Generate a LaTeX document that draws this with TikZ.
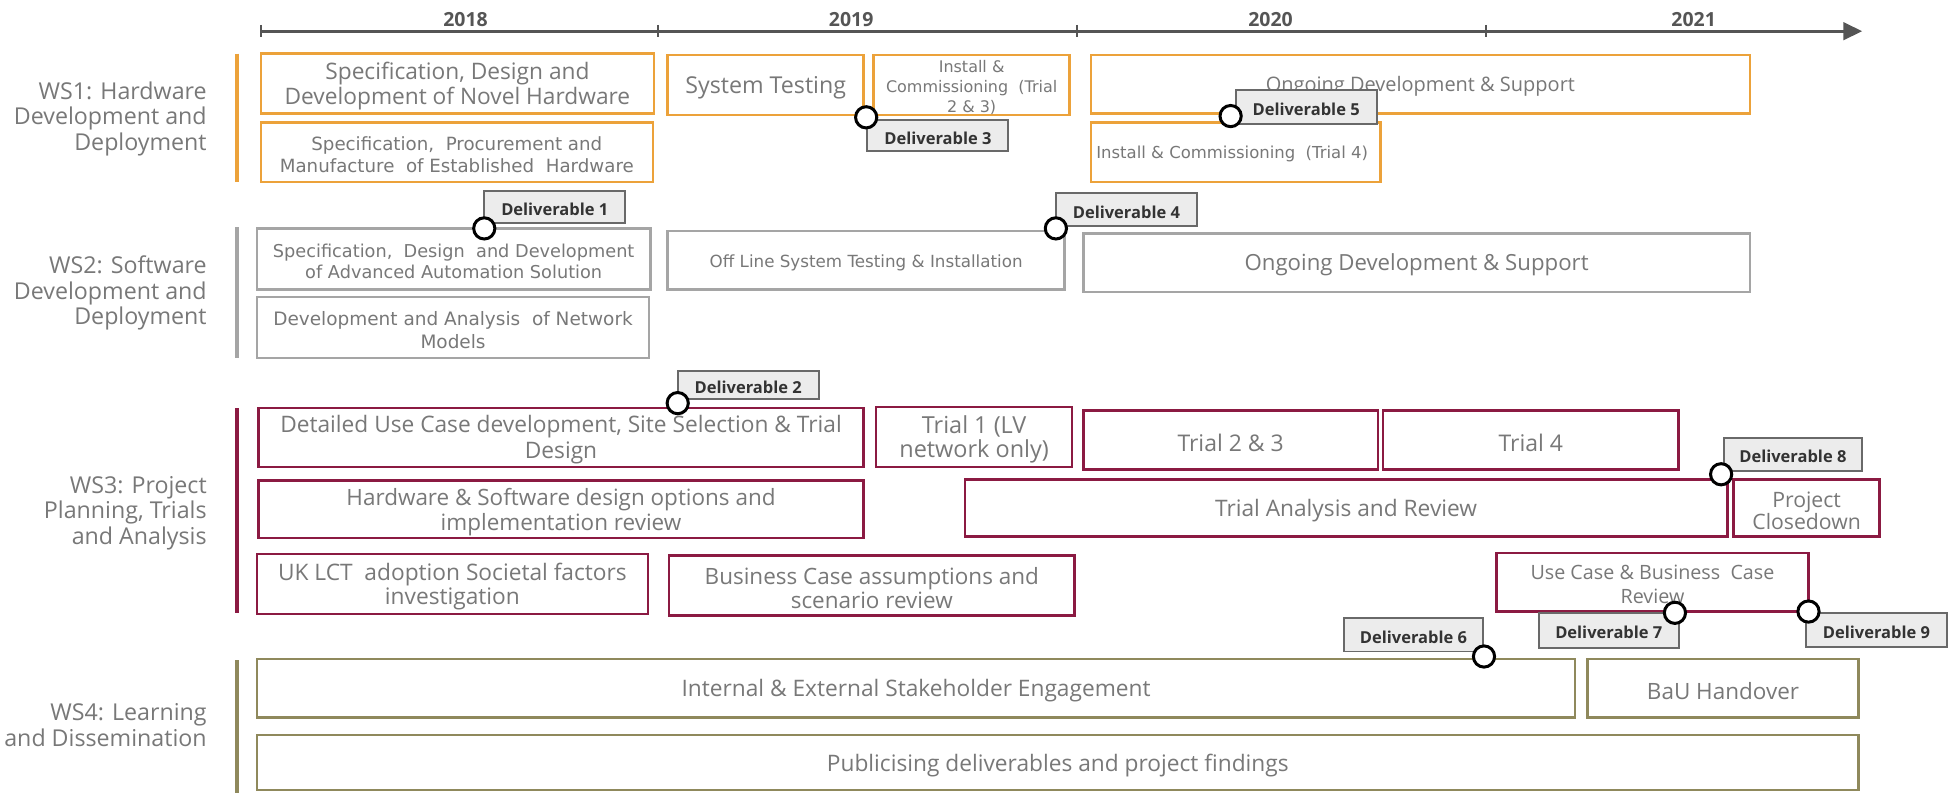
\documentclass[tikz,border=0pt]{standalone}
\usepackage{fontspec}
\setmainfont{Open Sans}
\newfontfamily\verd{DejaVu Sans}
\usetikzlibrary{arrows.meta}

\definecolor{wsorange}{RGB}{236,162,58}
\definecolor{wsgrey}{RGB}{165,165,165}
\definecolor{wscrimson}{RGB}{139,26,66}
\definecolor{wsolive}{RGB}{143,137,92}
\definecolor{txtgrey}{RGB}{120,120,120}
\definecolor{axisgrey}{RGB}{85,85,85}
\definecolor{dlvfill}{RGB}{236,236,236}
\definecolor{dlvdraw}{RGB}{105,105,105}

\newcommand\fsz[2]{\fontsize{#1}{#2}\selectfont}
% task box given by its two corners (in picture units); its text sits slightly low
\newcommand\task[7]{%
  \pgfmathsetmacro\tw{(#5-#3)*0.5}%
  \pgfmathsetmacro\th{(#6-#4)*0.5}%
  \node[#2, minimum width=\tw pt, minimum height=\th pt] (#1) at ({(#3+#5)/2},{(#4+#6)/2}) {};%
  \node[#2, draw=none, fill=none, minimum width=0pt, minimum height=0pt] (#1-t) at ([yshift=-1pt]#1.center) {#7};%
}

\tikzset{
  taskbox/.style={draw, line width=1pt, fill=white, inner sep=0pt, align=center, text=txtgrey},
  obox/.style={taskbox, draw=wsorange},
  gbox/.style={taskbox, draw=wsgrey},
  cbox/.style={taskbox, draw=wscrimson},
  vbox/.style={taskbox, draw=wsolive},
  dlv/.style={draw=dlvdraw, fill=dlvfill, line width=0.8pt, inner sep=0pt,
    font=\bfseries\fsz{6.6}{8}, text=black!80},
  mile/.style={circle, draw=black, line width=1.2pt, fill=white, minimum size=8.5pt, inner sep=0pt},
  wslabel/.style={anchor=east, align=right, text=txtgrey, font=\fsz{9.3}{10.2}, inner sep=0pt},
  year/.style={anchor=base, font=\bfseries\fsz{7.8}{9}, text=axisgrey, inner sep=0pt},
  wsbar/.style={line width=1.6pt},
  axisline/.style={line width=1.1pt, draw=axisgrey, -{Triangle[length=7.5pt,width=7pt]}},
  tick/.style={line width=0.8pt, draw=axisgrey}
}

\begin{document}
\begin{tikzpicture}[x=0.5pt, y=-0.5pt]
\path[fill=white, use as bounding box] (0,0) rectangle (1568,635);

% time axis
\coordinate (t0) at (209,25);
\coordinate (t1) at (527,25);
\coordinate (t2) at (863,25);
\coordinate (t3) at (1191,25);
\coordinate (tend) at (1492,25);
\draw[axisline] (t0) -- (tend);
\foreach \p in {t0,t1,t2,t3} \draw[tick] ([yshift=2.5pt]\p) -- ([yshift=-2.5pt]\p);
\node[year] (y18) at (373,21) {2018};
\node[year] (y19) at (682,21) {2019};
\node[year] (y20) at (1018,21) {2020};
\node[year] (y21) at (1357,21) {2021};

% workstream labels and bars
\node[wslabel] (ws1) at (166,95) {WS1: Hardware\\Development and\\Deployment};
\node[wslabel] (ws2) at (166,235) {WS2: Software\\Development and\\Deployment};
\node[wslabel] (ws3) at (166,411) {WS3: Project\\Planning, Trials\\and Analysis};
\node[wslabel] (ws4) at (166,581) {WS4: Learning\\and Dissemination};
\draw[wsbar, wsorange] (189.5,43) -- (189.5,146);
\draw[wsbar, wsgrey] (189.5,182) -- (189.5,287);
\draw[wsbar, wscrimson] (189.5,327) -- (189.5,491);
\draw[wsbar, wsolive] (189.5,529) -- (189.5,635);

% WS1
\task{hw1}{obox, font=\fsz{9.1}{10}}{209}{43}{524}{91}{Specification, Design and\\Development of Novel Hardware}
\task{hw2}{obox, font=\verd\fsz{7.3}{9}}{209}{98}{523}{146}{Specification,\ \ Procurement and\\Manufacture\ \ of Established\ \ Hardware}
\task{hw3}{obox, font=\fsz{9.3}{10}}{535}{44}{692}{92}{System Testing}
\task{hw4}{obox, font=\verd\fsz{6.4}{8}}{700}{44}{857}{92}{Install \&\\Commissioning\ \ (Trial\\2 \& 3)}
\task{hw5}{obox, font=\fsz{8}{10}}{874}{44}{1402}{91}{Ongoing Development \& Support}
\task{hw6}{obox}{874}{98}{1106}{146}{}
\node[anchor=west, inner sep=0pt, text=txtgrey, font=\verd\fsz{6.6}{8}] (hw6x) at ([xshift=2.5pt, yshift=-0.5pt]hw6.west) {Install \& Commissioning\ \ (Trial 4)};

% WS2
\task{sw1}{gbox, font=\verd\fsz{7.1}{8.7}}{206}{183}{521}{232}{Specification,\ \ Design\ \ and Development\\of Advanced Automation Solution}
\task{sw2}{gbox, font=\verd\fsz{7.4}{9}}{206}{238}{520}{287}{Development and Analysis\ \ of Network\\Models}
\task{sw3}{gbox, font=\verd\fsz{6.7}{8}}{535}{185}{853}{232}{Off Line System Testing \& Installation}
\task{sw4}{gbox, font=\fsz{8.9}{10}}{868}{187}{1402}{234}{Ongoing Development \& Support}

% WS3
\task{pt1}{cbox, font=\fsz{9.1}{10.5}}{207}{327}{692}{374}{Detailed Use Case development, Site Selection \& Trial\\Design}
\task{pt2}{cbox, font=\fsz{9.4}{9.8}}{702}{326}{859}{374}{Trial 1 (LV\\network only)}
\task{pt3}{cbox, font=\fsz{9.2}{9.5}}{868}{329}{1104}{376}{Trial 2 \& 3}
\task{pt4}{cbox, font=\fsz{9.2}{9.5}}{1108}{329}{1345}{376}{Trial 4}
\task{pt5}{cbox, font=\fsz{9}{10}}{207}{385}{692}{431}{Hardware \& Software design options and\\implementation review}
\task{pt6}{cbox, font=\fsz{9.1}{9.5}}{773}{384}{1384}{430}{Trial Analysis and Review}
\task{pt7}{cbox, font=\fsz{8.5}{8.8}}{1389}{384}{1506}{430}{Project\\Closedown}
\task{pt8}{cbox, font=\fsz{9.1}{9.6}}{206}{444}{519}{492}{UK LCT\ \ adoption Societal factors\\investigation}
\task{pt9}{cbox, font=\fsz{9}{9.6}}{536}{445}{861}{493}{Business Case assumptions and\\scenario review}
\task{pt10}{cbox, font=\fsz{7.9}{9.6}}{1199}{443}{1449}{490}{Use Case \& Business\ \ Case\\Review}

% WS4
\task{ld1}{vbox, font=\fsz{9.1}{10}}{206}{528}{1262}{575}{Internal \& External Stakeholder Engagement}
\task{ld2}{vbox, font=\fsz{9}{10}}{1272}{528}{1489}{575}{BaU Handover}
\task{ld3}{vbox, font=\fsz{9.1}{10}}{206}{589}{1489}{633}{Publicising deliverables and project findings}

% deliverables: label, then milestone circle on top
\task{d1l}{dlv}{388}{153}{501}{179}{Deliverable 1}
\node[mile] (d1) at (388,183) {};
\task{d2l}{dlv}{543}{297}{656}{320}{Deliverable 2}
\node[mile] (d2) at (543,323) {};
\task{d3l}{dlv}{695}{96}{808}{121}{Deliverable 3}
\node[mile] (d3) at (694,94) {};
\task{d4l}{dlv}{846}{155}{959}{181}{Deliverable 4}
\node[mile] (d4) at (846,183) {};
\task{d5l}{dlv}{990}{72}{1103}{99}{Deliverable 5}
\node[mile] (d5) at (986,93) {};
\task{d6l}{dlv}{1077}{495}{1188}{522}{Deliverable 6}
\node[mile] (d6) at (1189,526) {};
\task{d7l}{dlv}{1233}{491}{1345}{519}{Deliverable 7}
\node[mile] (d7) at (1342,491) {};
\task{d8l}{dlv}{1381}{351}{1492}{377}{Deliverable 8}
\node[mile] (d8) at (1379,380) {};
\task{d9l}{dlv}{1447}{491}{1560}{518}{Deliverable 9}
\node[mile] (d9) at (1449,490) {};
\end{tikzpicture}
\end{document}
